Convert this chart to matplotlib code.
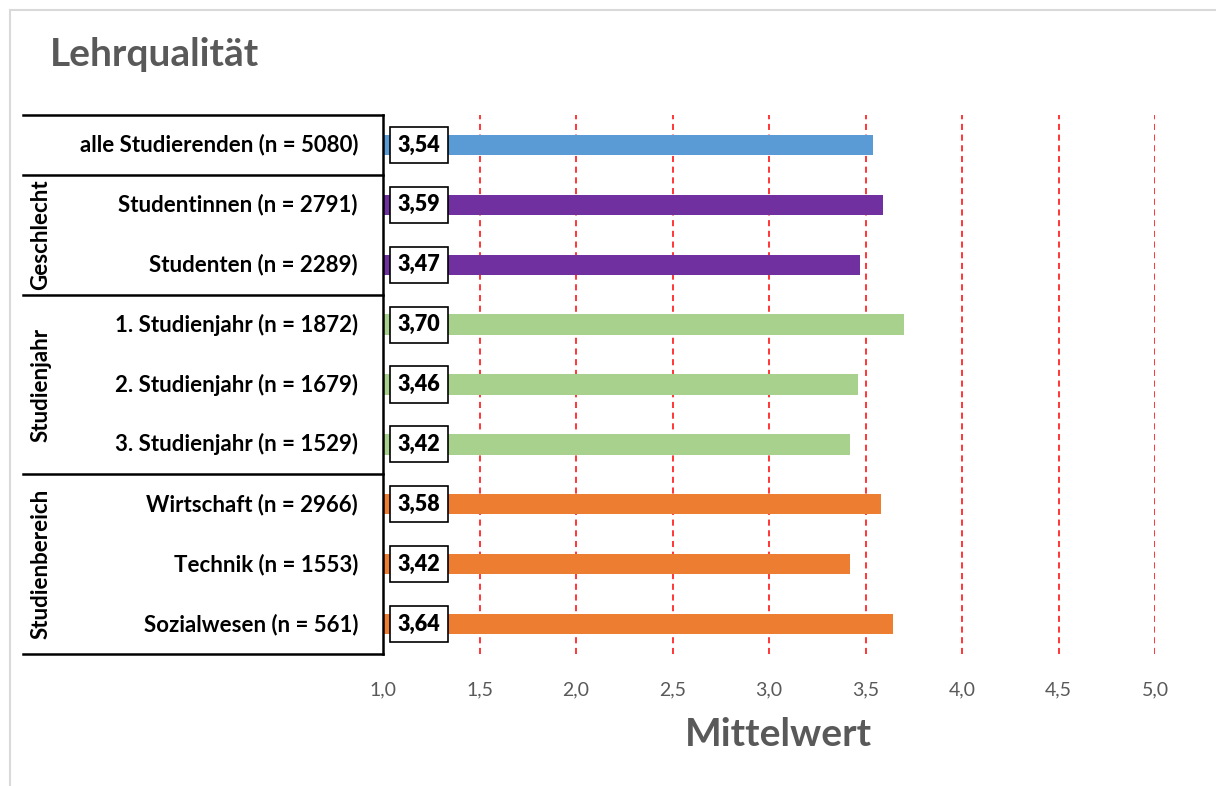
import matplotlib.pyplot as plt
from matplotlib.patches import Rectangle
from matplotlib.lines import Line2D

plt.rcParams['font.family'] = ['Lato', 'DejaVu Sans']

# data
categories = ['alle Studierenden (n = 5080)', 'Studentinnen (n = 2791)', 'Studenten (n = 2289)',
              '1. Studienjahr (n = 1872)', '2. Studienjahr (n = 1679)', '3. Studienjahr (n = 1529)',
              'Wirtschaft (n = 2966)', 'Technik (n = 1553)', 'Sozialwesen (n = 561)']
values = [3.54, 3.59, 3.47, 3.70, 3.46, 3.42, 3.58, 3.42, 3.64]
colors = ['#5B9BD5', '#7030A0', '#7030A0', '#A9D18E', '#A9D18E', '#A9D18E',
          '#ED7D31', '#ED7D31', '#ED7D31']
groups = [('Geschlecht', 1, 2), ('Studienjahr', 3, 5), ('Studienbereich', 6, 8)]
xticks = [1.0, 1.5, 2.0, 2.5, 3.0, 3.5, 4.0, 4.5, 5.0]

W, H = 1216, 786
fig = plt.figure(figsize=(W / 100, H / 100), dpi=100)

# light frame of the chart area
fig.patches.append(Rectangle((10 / W, -0.05), 1.0, 1.05 - 10 / H, transform=fig.transFigure,
                             fill=False, edgecolor='#D9D9D9', linewidth=1.5))

ax = fig.add_axes([383 / W, 1 - 654 / H, (1155 - 383) / W, (654 - 115) / H])
ypos = list(range(len(categories)))
ax.barh(ypos, [v - 1.0 for v in values], left=1.0, height=0.34, color=colors, zorder=2)
ax.set_xlim(1.0, 5.0)
ax.set_ylim(len(categories) - 0.5, -0.5)
ax.set_yticks([])
ax.set_xticks(xticks)
ax.set_xticklabels([f'{t:.1f}'.replace('.', ',') for t in xticks], color='#595959', fontsize=14)
ax.tick_params(axis='x', length=0, pad=20)
for t in xticks[1:]:
    ax.axvline(t, color='#FF0000', linestyle=(0, (4, 3)), linewidth=1.1, zorder=1)
for s in ['top', 'right', 'bottom']:
    ax.spines[s].set_visible(False)
ax.spines['left'].set_linewidth(1.8)
ax.spines['left'].set_color('black')

# value boxes
for y, v in zip(ypos, values):
    ax.annotate(f'{v:.2f}'.replace('.', ','), xy=(1.0, y), xytext=(36, 0),
                textcoords='offset pixels', ha='center', va='center',
                fontsize=15.5, fontweight='heavy', zorder=4,
                bbox=dict(boxstyle='square,pad=0.35', facecolor='white',
                          edgecolor='black', linewidth=1.2))

# category labels
for y, c in zip(ypos, categories):
    ax.annotate(c, xy=(1.0, y), xytext=(-25, 0), textcoords='offset pixels',
                ha='right', va='center', fontsize=16, fontweight='bold',
                annotation_clip=False)

# table lines on the left
x0 = (23 - 383) / (1155 - 383)
trans = ax.get_yaxis_transform()
for yb in [-0.5, 0.5, 2.5, 5.5, 8.5]:
    ax.add_line(Line2D([x0, 0], [yb, yb], transform=trans, color='black',
                       linewidth=1.8, clip_on=False))
xg = (41 - 383) / (1155 - 383)
for name, a, b in groups:
    ax.text(xg, (a + b) / 2, name, transform=trans, rotation=90, ha='center',
            va='center', fontsize=16, fontweight='bold')

fig.text(50 / W, 1 - 55 / H, 'Lehrqualität', fontsize=28, fontweight='bold',
         color='#595959', va='center', ha='left')
fig.text(778 / W, 1 - 735 / H, 'Mittelwert', fontsize=28, fontweight='bold',
         color='#595959', va='center', ha='center')

fig.savefig('out.png', dpi=100)
